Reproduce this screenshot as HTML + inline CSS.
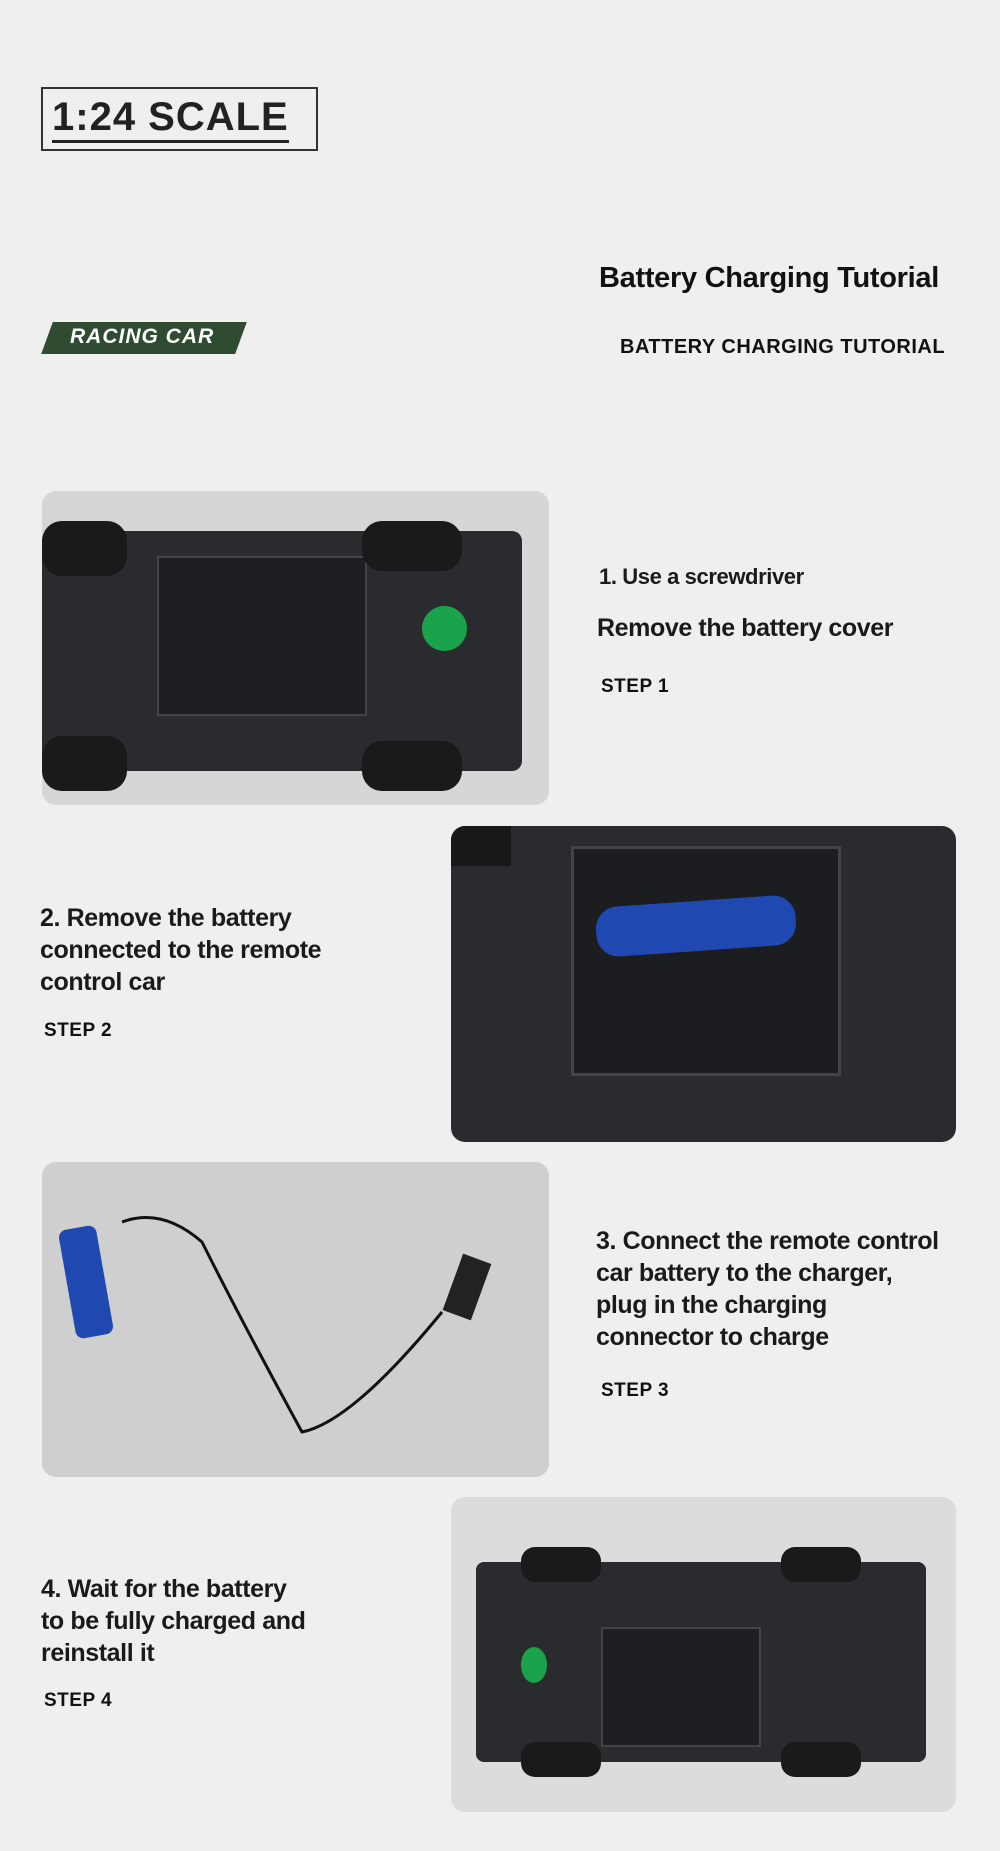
<!DOCTYPE html>
<html><head><meta charset="utf-8"><style>
*{margin:0;padding:0;box-sizing:border-box}
body{width:1000px;height:1851px;background:#efefef;position:relative;overflow:hidden;font-family:"Liberation Sans",sans-serif;color:#111}
.a{position:absolute}
.t{font-size:25px;line-height:32px;font-weight:bold;color:#1a1a1a;letter-spacing:-0.4px}
.s{font-size:19px;font-weight:bold;letter-spacing:0.5px}
.ph{position:absolute;border-radius:14px;overflow:hidden}
</style></head><body>
<div class="a" style="left:41px;top:87px;width:277px;height:64px;border:2px solid #333;"></div>
<div class="a" style="left:52px;top:94px;font-size:40px;font-weight:bold;letter-spacing:1px;color:#222;border-bottom:3px solid #222;line-height:46px">1:24 SCALE</div>
<div class="a" style="left:599px;top:262px;font-size:29px;font-weight:bold;letter-spacing:-0.3px">Battery Charging Tutorial</div>
<div class="a" style="left:47px;top:322px;width:194px;height:32px;background:#2f4b32;transform:skewX(-20deg)"></div>
<div class="a" style="left:70px;top:325px;font-size:21px;font-weight:bold;font-style:italic;color:#fff;letter-spacing:1px">RACING CAR</div>
<div class="a" style="left:620px;top:336px;font-size:20px;font-weight:bold;letter-spacing:0.5px">BATTERY CHARGING TUTORIAL</div>

<div class="ph" style="left:42px;top:491px;width:507px;height:314px;background:#d6d6d6">
 <div class="a" style="left:0;top:40px;width:480px;height:240px;background:#2a2b2e;border-radius:10px"></div>
 <div class="a" style="left:115px;top:65px;width:210px;height:160px;background:#1e1f22;border:2px solid #444"></div>
 <div class="a" style="left:0;top:30px;width:85px;height:55px;background:#1a1a1a;border-radius:20px"></div>
 <div class="a" style="left:0;top:245px;width:85px;height:55px;background:#1a1a1a;border-radius:20px"></div>
 <div class="a" style="left:320px;top:30px;width:100px;height:50px;background:#1a1a1a;border-radius:20px"></div>
 <div class="a" style="left:320px;top:250px;width:100px;height:50px;background:#1a1a1a;border-radius:20px"></div>
 <div class="a" style="left:380px;top:115px;width:45px;height:45px;background:#1aa34a;border-radius:50%"></div>
</div>
<div class="a t" style="left:599px;top:561px;font-size:22px">1. Use a screwdriver</div>
<div class="a t" style="left:597px;top:612px">Remove the battery cover</div>
<div class="a s" style="left:601px;top:676px">STEP 1</div>

<div class="ph" style="left:451px;top:826px;width:505px;height:316px;background:#2a2b2e">
 <div class="a" style="left:120px;top:20px;width:270px;height:230px;background:#1c1d20;border:3px solid #444"></div>
 <div class="a" style="left:145px;top:75px;width:200px;height:50px;background:#1f49b0;border-radius:22px;transform:rotate(-4deg)"></div>
 <div class="a" style="left:0;top:0;width:60px;height:40px;background:#181818"></div>
</div>
<div class="a t" style="left:40px;top:902px">2. Remove the battery<br>connected to the remote<br>control car</div>
<div class="a s" style="left:44px;top:1020px">STEP 2</div>

<div class="ph" style="left:42px;top:1162px;width:507px;height:315px;background:#cfcfcf">
 <div class="a" style="left:25px;top:65px;width:38px;height:110px;background:#1f49b0;border-radius:8px;transform:rotate(-10deg)"></div>
 <svg class="a" style="left:0;top:0" width="507" height="315"><path d="M80 60 Q120 45 160 80 Q200 160 260 270 Q310 260 400 150" stroke="#111" stroke-width="3" fill="none"/><rect x="410" y="95" width="30" height="60" fill="#222" transform="rotate(20 425 125)"/></svg>
</div>
<div class="a t" style="left:596px;top:1225px">3. Connect the remote control<br>car battery to the charger,<br>plug in the charging<br>connector to charge</div>
<div class="a s" style="left:601px;top:1380px">STEP 3</div>

<div class="ph" style="left:451px;top:1497px;width:505px;height:315px;background:#dcdcdc">
 <div class="a" style="left:25px;top:65px;width:450px;height:200px;background:#2a2b2e;border-radius:8px"></div>
 <div class="a" style="left:70px;top:50px;width:80px;height:35px;background:#1a1a1a;border-radius:14px"></div>
 <div class="a" style="left:330px;top:50px;width:80px;height:35px;background:#1a1a1a;border-radius:14px"></div>
 <div class="a" style="left:70px;top:245px;width:80px;height:35px;background:#1a1a1a;border-radius:14px"></div>
 <div class="a" style="left:330px;top:245px;width:80px;height:35px;background:#1a1a1a;border-radius:14px"></div>
 <div class="a" style="left:150px;top:130px;width:160px;height:120px;background:#1e1f22;border:2px solid #444"></div>
 <div class="a" style="left:70px;top:150px;width:26px;height:36px;background:#1aa34a;border-radius:50%"></div>
</div>
<div class="a t" style="left:41px;top:1573px">4. Wait for the battery<br>to be fully charged and<br>reinstall it</div>
<div class="a s" style="left:44px;top:1690px">STEP 4</div>
</body></html>
